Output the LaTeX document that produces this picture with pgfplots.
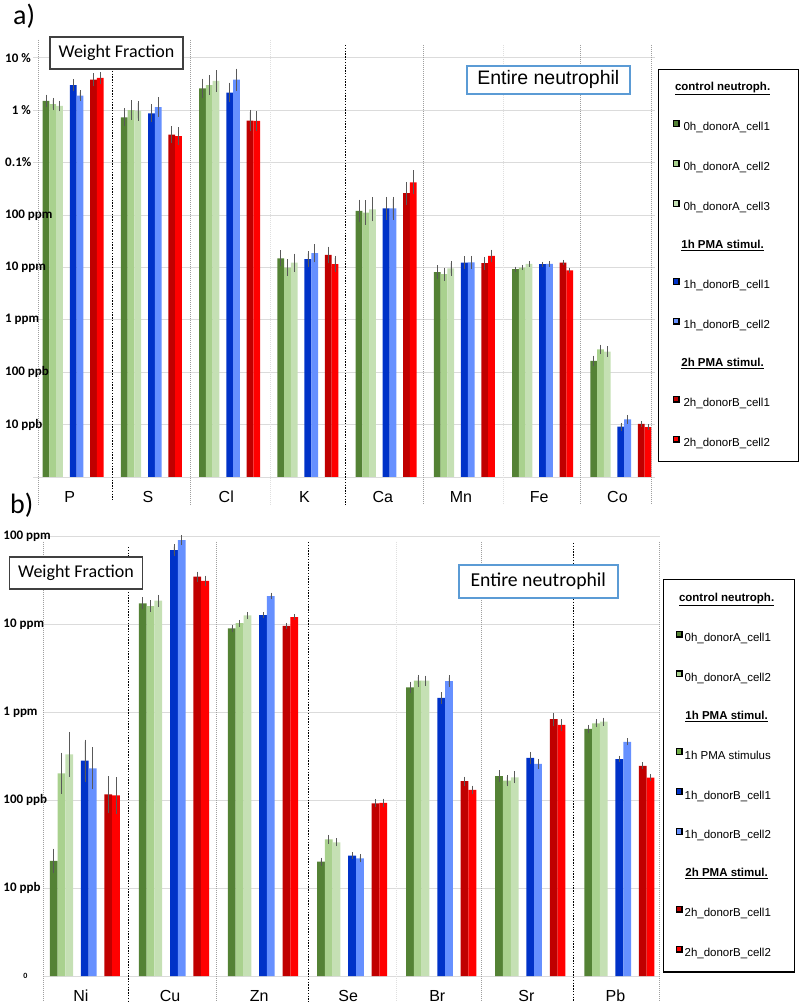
\documentclass[border=0pt]{standalone}
\usepackage{pgfplots}
\pgfplotsset{compat=1.18}
\usepackage{pgfplotstable}
\usepackage{fontspec}
\setmainfont{Liberation Sans}
\newfontfamily\arial{Liberation Sans}
\newfontfamily\calib{Carlito}

\definecolor{gA}{HTML}{548235}
\definecolor{gB}{HTML}{A9D18E}
\definecolor{gC}{HTML}{C5E0B4}
\definecolor{gM}{HTML}{70AD47}
\definecolor{bA}{HTML}{0032C8}
\definecolor{bB}{HTML}{6690FF}
\definecolor{rA}{HTML}{C00000}
\definecolor{rB}{HTML}{FF0000}
\definecolor{errc}{HTML}{595959}
\definecolor{boxblue}{HTML}{5B9BD5}
\definecolor{boxgray}{HTML}{404040}

% values in ppb, e = relative error
\pgfplotstableread{
x g1 e1 g2 e2 g3 e3 b1 e4 b2 e5 r1 e6 r2 e7
0 1.5e7 0.20 1.3e7 0.20 1.2e7 0.15 3.0e7 0.17 1.9e7 0.15 3.8e7 0.20 4.1e7 0.17
1 7.3e6 0.35 1.0e7 0.40 9.7e6 0.40 8.7e6 0.35 1.14e7 0.40 3.4e6 0.30 3.2e6 0.35
2 2.6e7 0.40 3.0e7 0.40 3.6e7 0.45 2.16e7 0.40 3.8e7 0.48 6.3e6 0.45 6.2e6 0.40
3 1.49e4 0.30 9.9e3 0.30 1.23e4 0.35 1.43e4 0.28 1.86e4 0.35 1.73e4 0.30 1.15e4 0.30
4 1.19e5 0.50 1.11e5 0.55 1.28e5 0.55 1.34e5 0.50 1.34e5 0.50 2.6e5 0.50 4.2e5 0.55
5 8.1e3 0.22 7.4e3 0.20 9.6e3 0.25 1.23e4 0.20 1.25e4 0.20 1.2e4 0.20 1.65e4 0.20
6 9.2e3 0.02 9.9e3 0.02 1.16e4 0.02 1.15e4 0.02 1.16e4 0.02 1.23e4 0.02 8.8e3 0.02
7 164 0.15 273 0.12 247 0.14 9.1 0.08 12.6 0.10 10.3 0.04 8.9 0.03
}\tabA

\pgfplotstableread{
x g1 e1 g2 e2 g3 e3 b1 e4 b2 e5 r1 e6 r2 e7
0 20.3 0.30 201 0.62 330 0.70 280 0.64 229 0.64 116 0.52 113 0.52
1 1.72e4 0.10 1.6e4 0.10 1.84e4 0.10 6.9e4 0.10 9.0e4 0.08 3.45e4 0.08 3.09e4 0.08
2 8.9e3 0.03 1.02e4 0.03 1.25e4 0.03 1.26e4 0.02 2.08e4 0.03 9.5e3 0.02 1.2e4 0.02
3 19.9 0.05 35.7 0.06 33 0.05 23.3 0.03 21.7 0.05 91.7 0.05 93 0.05
4 1900 0.10 2270 0.10 2270 0.08 1450 0.10 2240 0.10 164 0.06 130 0.06
5 187 0.10 166 0.10 181 0.10 302 0.10 257 0.08 830 0.12 713 0.10
6 641 0.05 744 0.05 777 0.05 292 0.03 459 0.04 245 0.04 179 0.03
}\tabB

\pgfplotsset{
  elbar/.style={ybar, bar shift=0pt, draw=none, fill=#1, forget plot,
    error bars/.cd, y dir=both, y explicit relative,
    error bar style={color=errc, line width=0.6pt},
    error mark options={color=errc, mark size=2.2pt, line width=0.6pt}},
}

% one row of bars: #1 table, #2 slot width, #3 colour of third bar
\newcommand\addbars[3]{%
  \addplot[elbar=gA] table[x expr=\thisrow{x}-3.5*#2, y=g1, y error plus=e1, y error minus expr=\thisrow{e1}/(1+\thisrow{e1})]{#1};
  \addplot[elbar=gB] table[x expr=\thisrow{x}-2.5*#2, y=g2, y error plus=e2, y error minus expr=\thisrow{e2}/(1+\thisrow{e2})]{#1};
  \addplot[elbar=#3] table[x expr=\thisrow{x}-1.5*#2, y=g3, y error plus=e3, y error minus expr=\thisrow{e3}/(1+\thisrow{e3})]{#1};
  \addplot[elbar=bA] table[x expr=\thisrow{x}+0.5*#2, y=b1, y error plus=e4, y error minus expr=\thisrow{e4}/(1+\thisrow{e4})]{#1};
  \addplot[elbar=bB] table[x expr=\thisrow{x}+1.5*#2, y=b2, y error plus=e5, y error minus expr=\thisrow{e5}/(1+\thisrow{e5})]{#1};
  \addplot[elbar=rA] table[x expr=\thisrow{x}+3.5*#2, y=r1, y error plus=e6, y error minus expr=\thisrow{e6}/(1+\thisrow{e6})]{#1};
  \addplot[elbar=rB] table[x expr=\thisrow{x}+4.5*#2, y=r2, y error plus=e7, y error minus expr=\thisrow{e7}/(1+\thisrow{e7})]{#1};
}

\newcommand\lfont{\arial\fontsize{11.5}{12}\selectfont}
\newcommand\lhA[1]{\makebox[78pt][c]{\lfont\bfseries\underline{#1}}}
\newcommand\leA[1]{\makebox[101pt][l]{\lfont #1}}
\newcommand\lhB[1]{\makebox[84pt][c]{\lfont\bfseries\underline{#1}}}
\newcommand\leB[1]{\makebox[98pt][l]{\lfont #1}}

\tikzset{
  sepk/.style={black, line width=0.7pt, dash pattern=on 1.5pt off 1.3pt},
  sepg/.style={gray!75, line width=0.7pt, dash pattern=on 1pt off 1pt},
  sepl/.style={gray!25, line width=0.7pt, dash pattern=on 1pt off 1pt},
}

\begin{document}
\begin{tikzpicture}[x=1pt,y=1pt]
\useasboundingbox (0,0) rectangle (800,1008);

% ---------- panel a ----------
\begin{axis}[
  anchor=south west, scale only axis, ymode=log,
  axis line style={draw=none}, major tick length=0pt, tick style={draw=none}, yminorticks=false,
  ymajorgrids, grid style={draw=gray!28, line width=0.8pt},
  xtick={0,...,7},
  xticklabel style={font=\arial\fontsize{16}{16}\selectfont, inner sep=0pt, anchor=north, yshift=-14pt},
  legend cell align=left,
  legend image code/.code={\fill[#1] (0pt,1.3pt) rectangle (5.8pt,7.1pt);},
  at={(33pt,531pt)}, width=622pt, height=435pt,
  xmin=-0.47, xmax=7.48, ymin=1, ymax=1.995e8,
  bar width=0.0866,
  xticklabels={P,S,Cl,K,Ca,Mn,Fe,Co},
  ytick={1,10,100,1000,1e4,1e5,1e6,1e7,1e8}, yticklabels={},
  legend style={at={(axis description cs:1.0048,0.938)}, anchor=north west,
    draw=black, line width=1.2pt, fill=white,
    inner xsep=14pt, inner ysep=12.3pt, row sep=26.5pt, column sep=4pt,
    nodes={inner sep=0pt, text height=9pt, text depth=2.5pt}},
]
\addbars{\tabA}{0.0866}{gC}
\addlegendimage{empty legend}\addlegendentry{\lhA{control neutroph.}}
\addlegendimage{fill=gA}\addlegendentry{\leA{0h\_donorA\_cell1}}
\addlegendimage{fill=gB}\addlegendentry{\leA{0h\_donorA\_cell2}}
\addlegendimage{fill=gC}\addlegendentry{\leA{0h\_donorA\_cell3}}
\addlegendimage{empty legend}\addlegendentry{\lhA{1h PMA stimul.}}
\addlegendimage{fill=bA}\addlegendentry{\leA{1h\_donorB\_cell1}}
\addlegendimage{fill=bB}\addlegendentry{\leA{1h\_donorB\_cell2}}
\addlegendimage{empty legend}\addlegendentry{\lhA{2h PMA stimul.}}
\addlegendimage{fill=rA}\addlegendentry{\leA{2h\_donorB\_cell1}}
\addlegendimage{fill=rB}\addlegendentry{\leA{2h\_donorB\_cell2}}
\end{axis}
% tick labels of panel a, set over the bars
\begin{axis}[
  anchor=south west, scale only axis, ymode=log,
  axis line style={draw=none}, major tick length=0pt, tick style={draw=none}, yminorticks=false,
  yticklabel style={font=\calib\bfseries\fontsize{13}{13}\selectfont, anchor=west, inner sep=0pt, xshift=-28pt},
  at={(33pt,531pt)}, width=622pt, height=435pt,
  xmin=-0.47, xmax=7.48, ymin=1, ymax=1.995e8, xtick=\empty,
  ytick={10,100,1000,1e4,1e5,1e6,1e7,1e8},
  yticklabels={10 ppb,100 ppb,1 ppm,10 ppm,100 ppm,0.1\%,\hphantom{1}1 \%,10 \%},
]
\end{axis}

% ---------- panel b ----------
\begin{axis}[
  anchor=south west, scale only axis, ymode=log,
  axis line style={draw=none}, major tick length=0pt, tick style={draw=none}, yminorticks=false,
  ymajorgrids, grid style={draw=gray!28, line width=0.8pt},
  xtick={0,...,6},
  xticklabel style={font=\arial\fontsize{16}{16}\selectfont, inner sep=0pt, anchor=north, yshift=-14pt},
  legend cell align=left,
  legend image code/.code={\fill[#1] (0pt,1.3pt) rectangle (5.8pt,7.1pt);},
  at={(43pt,32pt)}, width=617pt, height=440pt,
  xmin=-0.426, xmax=6.50, ymin=1, ymax=1e5,
  bar width=0.0875,
  xticklabels={Ni,Cu,Zn,Se,Br,Sr,Pb},
  ytick={1,10,100,1000,1e4,1e5}, yticklabels={},
  legend style={at={(axis description cs:1.0049,0.902)}, anchor=north west,
    draw=black, line width=1.2pt, fill=white,
    inner xsep=12pt, inner ysep=13pt, row sep=26.4pt, column sep=2pt,
    nodes={inner sep=0pt, text height=9pt, text depth=2.5pt}},
]
\addbars{\tabB}{0.0875}{gC}
\addlegendimage{empty legend}\addlegendentry{\lhB{control neutroph.}}
\addlegendimage{fill=gA}\addlegendentry{\leB{0h\_donorA\_cell1}}
\addlegendimage{fill=gB}\addlegendentry{\leB{0h\_donorA\_cell2}}
\addlegendimage{empty legend}\addlegendentry{\lhB{1h PMA stimul.}}
\addlegendimage{fill=gM}\addlegendentry{\leB{1h PMA stimulus}}
\addlegendimage{fill=bA}\addlegendentry{\leB{1h\_donorB\_cell1}}
\addlegendimage{fill=bB}\addlegendentry{\leB{1h\_donorB\_cell2}}
\addlegendimage{empty legend}\addlegendentry{\lhB{2h PMA stimul.}}
\addlegendimage{fill=rA}\addlegendentry{\leB{2h\_donorB\_cell1}}
\addlegendimage{fill=rB}\addlegendentry{\leB{2h\_donorB\_cell2}}
\end{axis}
% tick labels of panel b, set over the bars
\begin{axis}[
  anchor=south west, scale only axis, ymode=log,
  axis line style={draw=none}, major tick length=0pt, tick style={draw=none}, yminorticks=false,
  yticklabel style={font=\calib\bfseries\fontsize{13}{13}\selectfont, anchor=west, inner sep=0pt, xshift=-39.7pt},
  at={(43pt,32pt)}, width=617pt, height=440pt,
  xmin=-0.426, xmax=6.50, ymin=1, ymax=1e5, xtick=\empty,
  ytick={1,10,100,1000,1e4,1e5},
  yticklabels={\hphantom{000}{\fontsize{8}{8}\selectfont 0},10 ppb,100 ppb,1 ppm,10 ppm,100 ppm},
]
\end{axis}

% group separators, panel a
\draw[sepg] (38,968) -- (38,503);
\draw[sepk] (112.5,968) -- (112.5,508);
\draw[sepg] (190.8,968) -- (190.8,503);
\draw[sepl] (270,968) -- (270,503);
\draw[sepk] (345,963) -- (345,503);
\draw[sepg] (423.3,963) -- (423.3,503);
\draw[sepl] (503.3,963) -- (503.3,503);
\draw[sepg] (580,963) -- (580,503);
\draw[sepg] (651.7,963) -- (651.7,503);
% group separators, panel b
\draw[sepg] (43.3,466) -- (43.3,6);
\draw[sepk] (128.3,461) -- (128.3,6);
\draw[sepg] (216,466) -- (216,6);
\draw[sepk] (308,466) -- (308,6);
\draw[sepl] (396.7,466) -- (396.7,6);
\draw[sepg] (481.7,466) -- (481.7,6);
\draw[sepk] (573.3,465) -- (573.3,6);
\draw[sepg] (659,466) -- (659,6);

% text boxes
\node[draw=boxgray, line width=1.1pt, fill=white, minimum width=133pt, minimum height=32pt,
  inner sep=0pt, font=\calib\fontsize{18}{18}\selectfont] at (116.5,955) {Weight Fraction};
\node[draw=boxblue, line width=1.8pt, fill=white, minimum width=163pt, minimum height=28pt,
  inner sep=0pt, font=\arial\fontsize{19.5}{20}\selectfont] at (548.3,928.2) {Entire neutrophil};
\node[draw=boxgray, line width=1.1pt, fill=white, minimum width=133pt, minimum height=32pt,
  inner sep=0pt, font=\calib\fontsize{18}{18}\selectfont] at (76,435) {Weight Fraction};
\node[draw=boxblue, line width=1.8pt, fill=white, minimum width=158.7pt, minimum height=33pt,
  inner sep=0pt, font=\calib\fontsize{19.7}{20}\selectfont] at (538.3,426.5) {Entire neutrophil};

% panel letters
\node[anchor=west, inner sep=0pt, font=\calib\fontsize{28}{28}\selectfont] at (13,992) {a)};
\node[anchor=west, inner sep=0pt, font=\calib\fontsize{28}{28}\selectfont] at (10,503) {b)};
\end{tikzpicture}
\end{document}
